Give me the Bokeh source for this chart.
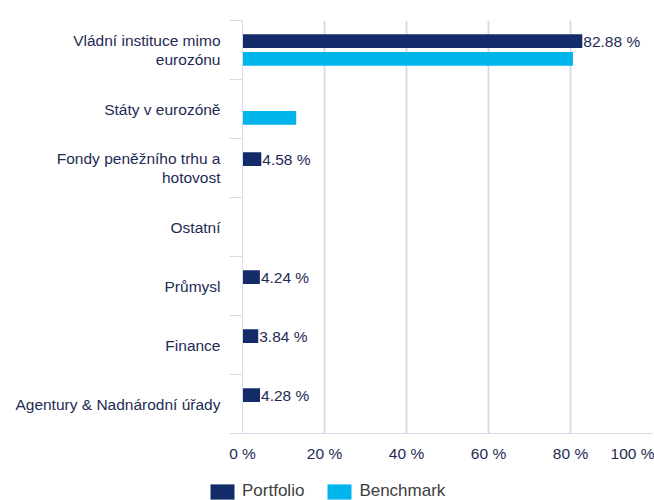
from bokeh.plotting import figure
from bokeh.models import ColumnDataSource, FixedTicker, Range1d, Legend, LegendItem
from bokeh.core.properties import value
from bokeh.embed import file_html
from bokeh.resources import INLINE

categories = [
    "Vládní instituce mimo\neurozónu",
    "Státy v eurozóně",
    "Fondy peněžního trhu a\nhotovost",
    "Ostatní",
    "Průmysl",
    "Finance",
    "Agentury & Nadnárodní úřady",
]
portfolio = [82.88, 0.0, 4.58, 0.0, 4.24, 3.84, 4.28]
benchmark = [80.6, 13.1, 0.0, 0.0, 0.0, 0.0, 0.0]
x_ticks = [0, 20, 40, 60, 80, 100]
x_tick_labels = ["0 %", "20 %", "40 %", "60 %", "80 %", "100 %"]
series_names = ["Portfolio", "Benchmark"]

FONT = "Liberation Sans"
FS = "15.5px"
TEXT = "#1e2b55"
LEG_TEXT = "#404040"
GRID = "#d3deea"
C_PORT = "#132c69"
C_BENCH = "#00b4ec"

n = len(categories)
centers = [n - 0.5 - i for i in range(n)]
off = 0.15
bh = 0.235

p = figure(width=654, height=482, output_backend="svg", toolbar_location=None,
           x_range=Range1d(0, 100), y_range=Range1d(0, n),
           min_border_left=242, min_border_right=2, min_border_top=20, min_border_bottom=49)
p.outline_line_color = None
p.background_fill_color = "white"

src_p = ColumnDataSource(dict(y=[c + off for c in centers], v=portfolio))
src_b = ColumnDataSource(dict(y=[c - off for c in centers], v=benchmark))
p.hbar(y="y", right="v", left=0, height=bh, source=src_p, fill_color=C_PORT, line_color=None)
p.hbar(y="y", right="v", left=0, height=bh, source=src_b, fill_color=C_BENCH, line_color=None)

lab_y = [c + off for c, v in zip(centers, portfolio) if v > 0]
lab_x = [v for v in portfolio if v > 0]
lab_t = [f"{v:.2f} %" for v in portfolio if v > 0]
p.text(x=lab_x, y=lab_y, text=lab_t, x_offset=1, text_align="left", text_baseline="middle",
       text_font=value(FONT), text_font_size=FS, text_color=TEXT)

# x axis
p.xaxis.ticker = FixedTicker(ticks=x_ticks)
p.xaxis.major_label_overrides = {t: l for t, l in zip(x_ticks, x_tick_labels)}
p.xaxis.axis_line_color = GRID
p.xaxis.major_tick_line_color = None
p.xaxis.minor_tick_line_color = None
p.xaxis.major_label_standoff = 5
p.xaxis.major_label_text_font = FONT
p.xaxis.major_label_text_font_size = FS
p.xaxis.major_label_text_color = TEXT

# y axis
p.yaxis.ticker = FixedTicker(ticks=centers, minor_ticks=list(range(n + 1)))
p.yaxis.major_label_overrides = {c: cat for c, cat in zip(centers, categories)}
p.yaxis.axis_line_color = GRID
p.yaxis.major_tick_line_color = None
p.yaxis.minor_tick_line_color = GRID
p.yaxis.minor_tick_out = 13
p.yaxis.minor_tick_in = 0
p.yaxis.major_label_standoff = 9
p.yaxis.major_label_text_font = FONT
p.yaxis.major_label_text_font_size = FS
p.yaxis.major_label_text_color = TEXT
p.yaxis.major_label_text_line_height = 1.15

p.xgrid.ticker = FixedTicker(ticks=x_ticks)
p.xgrid.grid_line_color = GRID
p.xgrid.grid_line_width = 2
p.ygrid.grid_line_color = None

# legend strip (separate root so its frame spans the full width)
lg = figure(width=654, height=18, output_backend="svg", toolbar_location=None,
            x_axis_type=None, y_axis_type=None,
            min_border_left=0, min_border_right=0, min_border_top=0, min_border_bottom=0,
            x_range=Range1d(0, 1), y_range=Range1d(0, 1))
lg.outline_line_color = None
lg.grid.grid_line_color = None
dp = lg.hbar(y=[5], right=[5], left=4, height=1, fill_color=C_PORT, line_color=None)
db = lg.hbar(y=[5], right=[5], left=4, height=1, fill_color=C_BENCH, line_color=None)
legend = Legend(items=[LegendItem(label=series_names[0], renderers=[dp], index=0),
                       LegendItem(label=series_names[1], renderers=[db], index=0)],
                orientation="horizontal", location=(207, -1),
                glyph_width=30, glyph_height=19, label_height=19, label_standoff=5,
                spacing=20, padding=0, margin=0, border_line_color=None,
                background_fill_alpha=0, label_text_font=FONT, label_text_font_size="17px",
                label_text_color=LEG_TEXT)
lg.add_layout(legend, "center")

open("out.html", "w").write(file_html([p, lg], INLINE))
